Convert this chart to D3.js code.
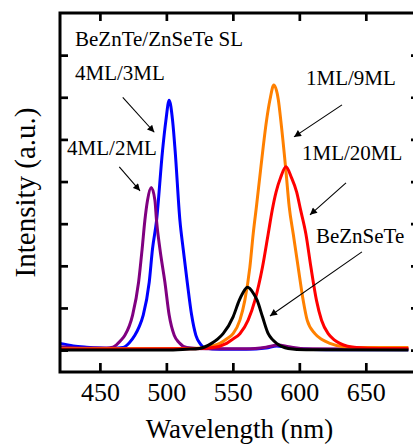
<!DOCTYPE html>
<html>
<head>
<meta charset="utf-8">
<script src="https://cdn.jsdelivr.net/npm/d3@7/dist/d3.min.js"></script>
<style>
  html, body { margin: 0; padding: 0; background: #fff; }
  svg { display: block; }
  text { font-family: "Liberation Serif", "Times New Roman", serif; fill: #000; }
</style>
</head>
<body>
<svg id="chart" width="413" height="445"></svg>
<script>
// ---------- data (wavelength nm, intensity a.u.) ----------
const xTicks = [450, 500, 550, 600, 650];
const yTicks = [0, 1, 2, 3, 4, 5, 6, 7];

const blueWl = [420, 430, 440, 450, 460, 467.4, 472, 476.3, 479.5, 482.6, 487.1, 489.6, 492.6, 497.1, 499.6, 502.1, 504.7, 506.6, 510.2, 512.6, 515.7, 519.0, 522.2, 525.5, 529, 540, 560, 575, 583, 590, 600, 620, 682];
const blueI  = [0.16, 0.10, 0.07, 0.05, 0.04, 0.06, 0.17, 0.35, 0.55, 0.83, 1.61, 2.41, 3.07, 4.73, 5.44, 5.93, 5.44, 4.73, 3.07, 2.41, 1.61, 0.83, 0.35, 0.15, 0.05, 0.02, 0.02, 0.05, 0.10, 0.07, 0.03, 0.01, 0.01];

const purpleWl = [420, 440, 455, 459.8, 463, 465.5, 468.8, 474.6, 479.1, 481.8, 483.8, 485.8, 488.6, 491.4, 492.6, 495.1, 498.9, 502.1, 505.9, 509.5, 515.4, 530, 560, 575, 584, 592, 605, 682];
const purpleI  = [0.08, 0.05, 0.05, 0.07, 0.14, 0.22, 0.35, 0.83, 1.61, 2.41, 3.07, 3.55, 3.86, 3.55, 3.07, 2.41, 1.61, 0.83, 0.35, 0.18, 0.06, 0.03, 0.03, 0.07, 0.12, 0.08, 0.03, 0.02];

const orangeWl = [420, 520, 532.7, 540.2, 545.5, 550.2, 555.3, 559, 562.8, 565.3, 567.9, 570.8, 575.3, 577.9, 580.8, 584.2, 586.1, 589.9, 592.4, 595.4, 599.1, 602.9, 605.9, 611.7, 617, 623, 633, 650, 682];
const orangeI  = [0.03, 0.04, 0.08, 0.16, 0.27, 0.39, 0.71, 1.18, 1.97, 2.76, 3.45, 4.26, 5.44, 5.94, 6.29, 5.94, 5.44, 4.26, 3.40, 2.76, 1.97, 1.18, 0.71, 0.39, 0.25, 0.16, 0.08, 0.06, 0.06];

const redWl = [420, 520, 535, 545.3, 550, 555.3, 561.5, 566.6, 572.3, 576.6, 579.6, 582.5, 586.0, 589.9, 594.0, 598.0, 601.0, 604.9, 608.7, 612.9, 616.7, 621.7, 626, 630.5, 643, 660, 682];
const redI  = [0.02, 0.03, 0.06, 0.16, 0.26, 0.39, 0.71, 1.18, 1.97, 2.76, 3.32, 3.75, 4.10, 4.35, 4.10, 3.75, 3.32, 2.76, 1.97, 1.18, 0.71, 0.39, 0.25, 0.16, 0.06, 0.04, 0.04];

const blackWl = [420, 500, 515, 525, 534, 538.5, 542.7, 550.2, 554.8, 557.4, 561.1, 565.4, 568.3, 572.3, 576.6, 579.5, 582.9, 591.6, 605, 682];
const blackI  = [0.0, 0.0, 0.02, 0.04, 0.16, 0.26, 0.39, 0.79, 1.18, 1.35, 1.49, 1.35, 1.18, 0.79, 0.39, 0.26, 0.16, 0.04, 0.01, 0.0];

const seriesNames  = ["4ML/3ML", "4ML/2ML", "1ML/9ML", "1ML/20ML", "BeZnSeTe"];
const seriesColors = ["#0000ff", "#800080", "#ff8000", "#ff0000", "#000000"];

// annotation labels (data coords)
const labelTexts = ["BeZnTe/ZnSeTe SL", "4ML/3ML", "1ML/9ML", "4ML/2ML", "1ML/20ML", "BeZnSeTe"];
const labelWl    = [431.3, 431.3, 605.0, 425.3, 602.0, 612.5];
const labelI     = [7.22, 6.41, 6.29, 4.63, 4.50, 2.53];

// arrows (data coords)
const arrowFromWl = [467.2, 464.6, 632.1, 635.1, 647.1];
const arrowFromI  = [6.00, 4.35, 5.82, 3.97, 2.33];
const arrowToWl   = [490.9, 480.2, 596.0, 608.0, 577.9];
const arrowToI    = [5.17, 3.78, 5.06, 3.21, 0.81];

// ---------- layout ----------
const svg = d3.select("#chart");
const L = 60, R = 419, T = 13, B = 372;
const x = d3.scaleLinear().domain([420, 690]).range([L, R]);
const y = d3.scaleLinear().domain([-0.52, 8]).range([B, T]);

// defs: arrow marker
svg.append("defs").append("marker")
  .attr("id", "ah").attr("viewBox", "0 0 10 10")
  .attr("refX", 10).attr("refY", 5)
  .attr("markerWidth", 9).attr("markerHeight", 7)
  .attr("markerUnits", "userSpaceOnUse")
  .attr("orient", "auto")
  .append("path").attr("d", "M0,0 L10,5 L0,10 Z").attr("fill", "#000");

// curves
const line = d3.line().x(d => x(d[0])).y(d => y(d[1])).curve(d3.curveMonotoneX);
const allSeries = [
  d3.zip(blueWl, blueI),
  d3.zip(purpleWl, purpleI),
  d3.zip(orangeWl, orangeI),
  d3.zip(redWl, redI),
  d3.zip(blackWl, blackI)
];
svg.append("g").selectAll("path").data(allSeries).join("path")
  .attr("d", line)
  .attr("fill", "none")
  .attr("stroke", (d, i) => seriesColors[i])
  .attr("stroke-width", 3)
  .attr("stroke-linejoin", "round");

// axes
const fmt = d3.format("d");
const ax = svg.append("g").attr("class", "axes");
ax.append("g").attr("transform", `translate(0,${B})`)
  .call(d3.axisBottom(x).tickValues(xTicks).tickFormat(fmt).tickSizeInner(-9).tickSizeOuter(0).tickPadding(11));
ax.append("g").attr("transform", `translate(0,${T})`)
  .call(d3.axisTop(x).tickValues(xTicks).tickFormat("").tickSizeInner(-8).tickSizeOuter(0));
ax.append("g").attr("transform", `translate(${L},0)`)
  .call(d3.axisLeft(y).tickValues(yTicks).tickFormat("").tickSizeInner(-8).tickSizeOuter(0));
ax.append("g").attr("transform", `translate(${R},0)`)
  .call(d3.axisRight(y).tickValues(yTicks).tickFormat("").tickSizeInner(-8).tickSizeOuter(0));
ax.selectAll(".domain").remove();
ax.selectAll(".tick line").attr("stroke", "#000").attr("stroke-width", 2.7);
ax.selectAll(".tick text")
  .style("font-family", '"Liberation Serif", "Times New Roman", serif')
  .style("font-size", "26px").attr("fill", "#000");

// frame
svg.append("rect").attr("x", L).attr("y", T).attr("width", R - L).attr("height", B - T)
  .attr("fill", "none").attr("stroke", "#000").attr("stroke-width", 3);

// axis titles
svg.append("text").attr("x", (L + R) / 2).attr("y", 438).attr("text-anchor", "middle")
  .style("font-size", "27px").text("Wavelength (nm)");
svg.append("text").attr("transform", `translate(35,${(T + B) / 2}) rotate(-90)`)
  .attr("text-anchor", "middle").style("font-size", "29px").text("Intensity (a.u.)");

// labels
svg.append("g").selectAll("text").data(labelTexts).join("text")
  .attr("x", (d, i) => x(labelWl[i])).attr("y", (d, i) => y(labelI[i]))
  .style("font-size", "21px").text(d => d);

// arrows
svg.append("g").selectAll("line").data(arrowFromWl).join("line")
  .attr("x1", (d, i) => x(arrowFromWl[i])).attr("y1", (d, i) => y(arrowFromI[i]))
  .attr("x2", (d, i) => x(arrowToWl[i])).attr("y2", (d, i) => y(arrowToI[i]))
  .attr("stroke", "#000").attr("stroke-width", 1.1)
  .attr("marker-end", "url(#ah)");
</script>
</body>
</html>
